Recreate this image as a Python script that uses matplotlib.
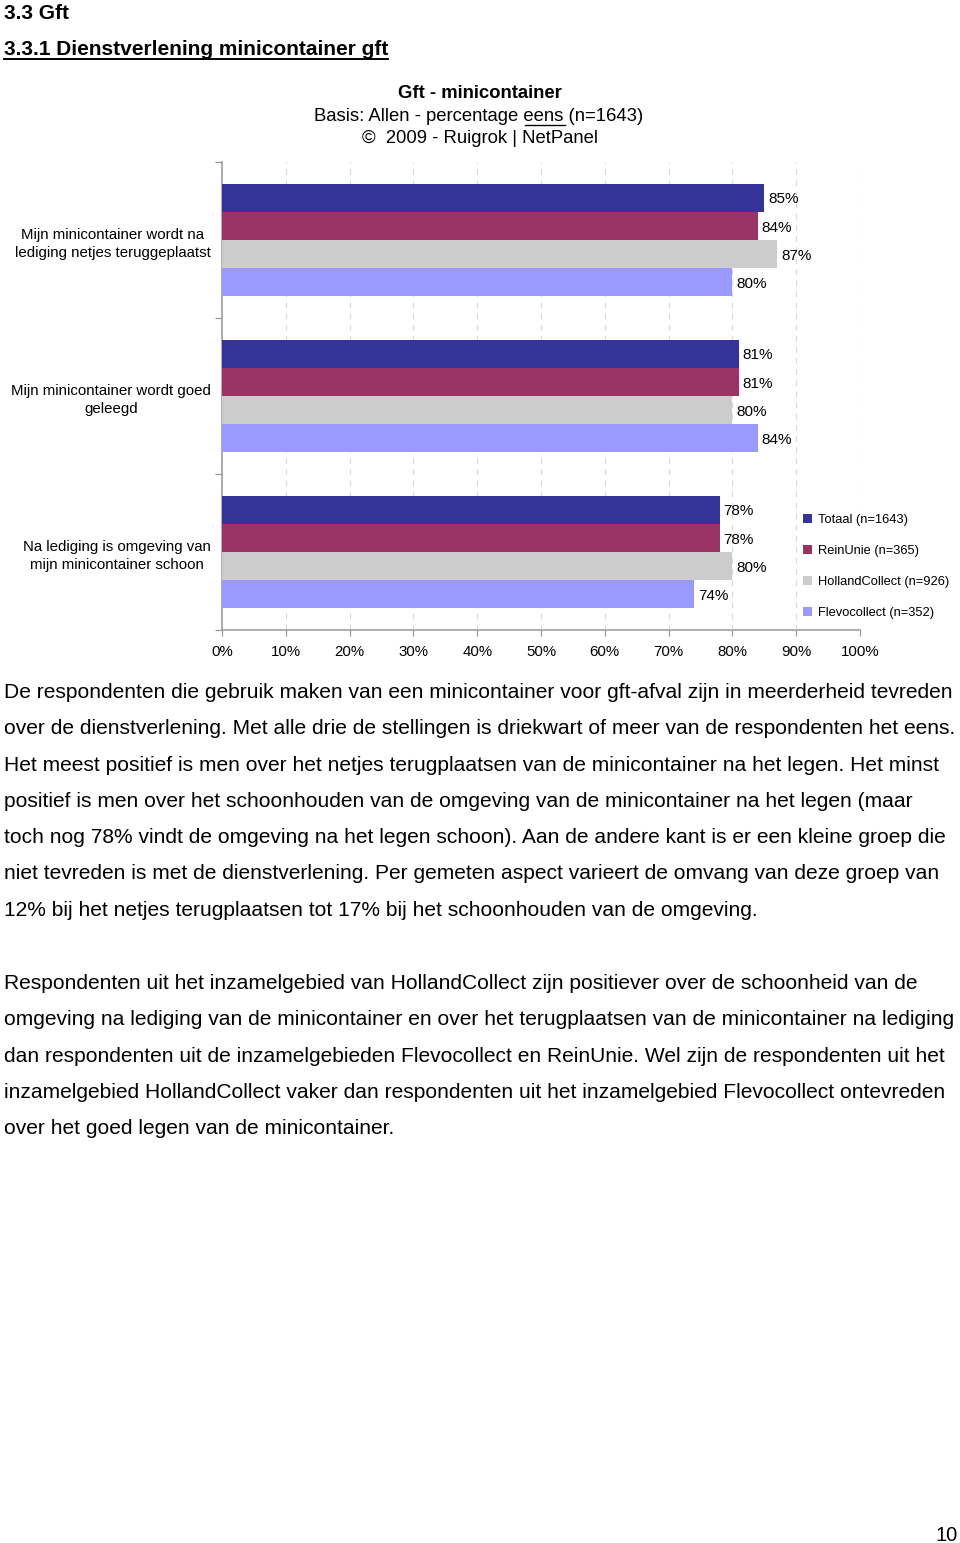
import numpy as np
import matplotlib
matplotlib.use("Agg")
import matplotlib.pyplot as plt

plt.rcParams['font.family'] = ['Liberation Sans', 'DejaVu Sans']

# chart data
statements = ["Mijn minicontainer wordt na\nlediging netjes teruggeplaatst",
              "Mijn minicontainer wordt goed\ngeleegd",
              "Na lediging is omgeving van\nmijn minicontainer schoon"]
series = ["Totaal (n=1643)", "ReinUnie (n=365)", "HollandCollect (n=926)", "Flevocollect (n=352)"]
totaal = [85, 81, 78]
reinunie = [84, 81, 78]
hollandcollect = [87, 80, 80]
flevocollect = [80, 84, 74]
colors = ["#333399", "#993366", "#CCCCCC", "#9999FF"]
xticks = [0, 10, 20, 30, 40, 50, 60, 70, 80, 90, 100]

para1 = [
    "De respondenten die gebruik maken van een minicontainer voor gft-afval zijn in meerderheid tevreden",
    "over de dienstverlening. Met alle drie de stellingen is driekwart of meer van de respondenten het eens.",
    "Het meest positief is men over het netjes terugplaatsen van de minicontainer na het legen. Het minst",
    "positief is men over het schoonhouden van de omgeving van de minicontainer na het legen (maar",
    "toch nog 78% vindt de omgeving na het legen schoon). Aan de andere kant is er een kleine groep die",
    "niet tevreden is met de dienstverlening. Per gemeten aspect varieert de omvang van deze groep van",
    "12% bij het netjes terugplaatsen tot 17% bij het schoonhouden van de omgeving.",
]
para2 = [
    "Respondenten uit het inzamelgebied van HollandCollect zijn positiever over de schoonheid van de",
    "omgeving na lediging van de minicontainer en over het terugplaatsen van de minicontainer na lediging",
    "dan respondenten uit de inzamelgebieden Flevocollect en ReinUnie. Wel zijn de respondenten uit het",
    "inzamelgebied HollandCollect vaker dan respondenten uit het inzamelgebied Flevocollect ontevreden",
    "over het goed legen van de minicontainer.",
]

W, H = 960, 1543
fig = plt.figure(figsize=(W / 100, H / 100), dpi=100)


def px(x, y):
    return x / W, 1 - y / H


def ftext(x, y, s, **kw):
    return fig.text(*px(x, y), s, **kw)


# headings
ftext(4, 19, "3.3 Gft", fontsize=15, fontweight='bold')
h2 = ftext(4, 55, "3.3.1 Dienstverlening minicontainer gft", fontsize=15, fontweight='bold')

# chart
ax = fig.add_axes([222 / W, 1 - 630 / H, 638 / W, 468 / H])
allvals = [totaal, reinunie, hollandcollect, flevocollect]
bh = 0.18
y0 = np.arange(len(statements)) + 0.5
for k, (vals, c, name) in enumerate(zip(allvals, colors, series)):
    ypos = y0 - 1.5 * bh + k * bh
    ax.barh(ypos, vals, height=bh, color=c, label=name, zorder=3)
    for yy, v in zip(ypos, vals):
        ax.text(v + 0.6, yy + 0.01, f"{v}%", va='center', ha='left', fontsize=11, zorder=4)

ax.set_xlim(0, 100)
ax.set_ylim(3, 0)
ax.set_xticks(xticks)
ax.set_xticklabels([f"{t}%" for t in xticks], fontsize=10.8)
ax.set_yticks([0, 1, 2, 3])
ax.set_yticklabels([])
ax.set_yticks(y0, minor=True)
ax.set_yticklabels(statements, minor=True, fontsize=10.8, ha='right',
                   multialignment='center', linespacing=1.45)
ax.tick_params(axis='y', which='minor', length=0, pad=8)
ax.tick_params(axis='y', which='major', length=5, color='#909090', direction='out')
ax.tick_params(axis='x', length=4, color='#909090', direction='out', pad=7)
ax.xaxis.grid(True, color='#d8d8d8', linestyle=(0, (5, 5)), linewidth=0.8, zorder=0)
for s in ['top', 'right']:
    ax.spines[s].set_visible(False)
for s in ['left', 'bottom']:
    ax.spines[s].set_color('#a0a0a0')
    ax.spines[s].set_linewidth(1.2)

leg = fig.legend(loc='upper left', bbox_to_anchor=px(793, 504), frameon=True,
                 fontsize=9.3, handlelength=0.7, handleheight=0.7,
                 handletextpad=0.4, labelspacing=1.47, borderpad=0.3)
leg.get_frame().set_edgecolor('none')
leg.get_frame().set_facecolor('white')
leg.get_frame().set_alpha(1)

# chart titles
fs = dict(fontsize=13.3)
ftext(480, 98, "Gft - minicontainer", fontweight='bold', ha='center', **fs)
pre = "Basis: Allen - percentage "
und = "eens"
post = " (n=1643)"
ftext(480, 143, "\u00a9  2009 - Ruigrok | NetPanel", ha='center', **fs)

fig.canvas.draw()
r = fig.canvas.get_renderer()


def width(s, **kw):
    t = fig.text(0, 0, s, **kw)
    w = t.get_window_extent(r).width
    t.remove()
    return w


w_pre = width(pre, **fs)
w_und = width(und, **fs)
w_tot = width(pre + und + post, **fs)
x_start = 479 - w_tot / 2
ftext(x_start, 121, pre + und + post, ha='left', **fs)
ux0 = x_start + w_pre + 1
fig.add_artist(plt.Line2D([ux0 / W, (ux0 + w_und) / W], [1 - 124.5 / H, 1 - 124.5 / H],
                          color='black', linewidth=1))

# underline for the section heading
bb = h2.get_window_extent(r)
fig.add_artist(plt.Line2D([bb.x0 / W, bb.x1 / W], [1 - 58.5 / H, 1 - 58.5 / H],
                          color='black', linewidth=1.4))

# body text
for i, line in enumerate(para1):
    ftext(4, 698 + i * 36.3, line, fontsize=15.1)
for i, line in enumerate(para2):
    ftext(4, 989 + i * 36.3, line, fontsize=15.1)

ftext(958, 1541, "10", fontsize=14.5, ha='right')

fig.savefig("out.png", dpi=100)
